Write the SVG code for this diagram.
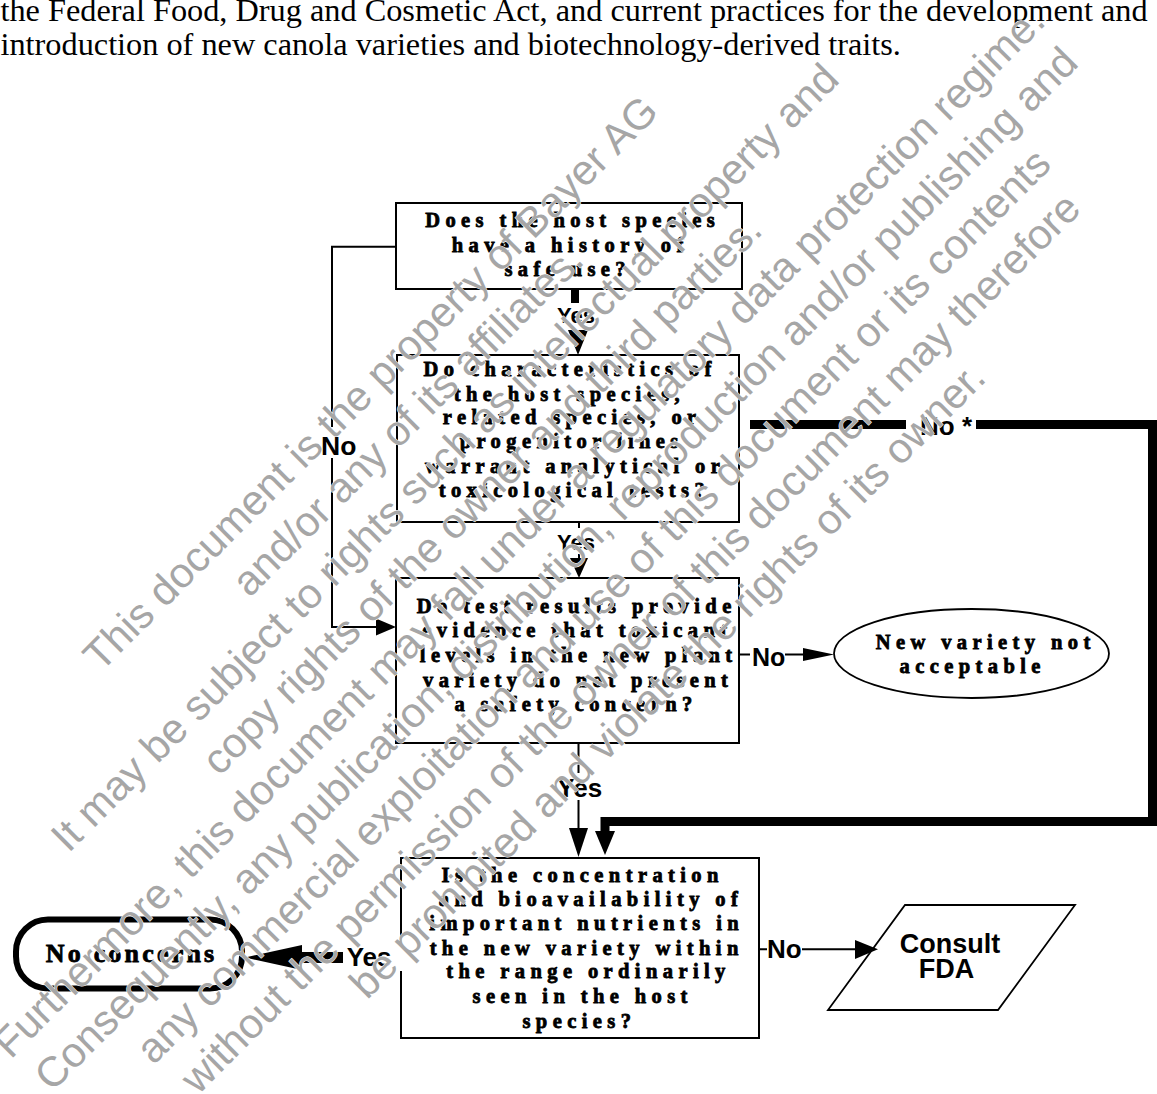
<svg xmlns="http://www.w3.org/2000/svg" width="1157" height="1094" viewBox="0 0 1157 1094">
<style>
.hdr{font-family:"Liberation Serif","Times New Roman",serif;font-size:32.3px;fill:#000}
.box{fill:#fff;stroke:#000;stroke-width:2}
.q{font-family:"Liberation Serif","Times New Roman",serif;font-weight:bold;font-size:20.5px;letter-spacing:5.4px;text-anchor:middle;fill:#000;stroke:#000;stroke-width:0.8px}
.lbl{font-family:"Liberation Sans",Arial,sans-serif;font-weight:bold;fill:#000}
.ln{fill:none;stroke:#000;stroke-width:2}
.thick{fill:none;stroke:#000;stroke-width:9;stroke-linejoin:miter}
.ah{fill:#000}
.wm{font-family:"Liberation Sans",Arial,sans-serif;font-size:42px;fill:#a6a6a6;stroke:#fff;stroke-width:1px;paint-order:stroke;text-anchor:middle}
</style>
<rect width="1157" height="1094" fill="#fff"/>
<text class="hdr" x="0.5" y="21">the Federal Food, Drug and Cosmetic Act, and current practices for the development and</text>
<text class="hdr" x="0.5" y="55">introduction of new canola varieties and biotechnology-derived traits.</text>

<g id="n1">
<rect class="box" x="396" y="203" width="346" height="86"/>
<text class="q" x="572.7" y="227">Does the host species</text>
<text class="q" x="570.2" y="251.5">have a history of</text>
<text class="q" x="567.7" y="276">safe use?</text>
</g>
<g id="n2">
<rect class="box" x="397" y="355" width="342" height="167"/>
<text class="q" x="570.2" y="376">Do characteristics of</text>
<text class="q" x="569.4" y="400.5">the host species,</text>
<text class="q" x="572.2" y="424">related species, or</text>
<text class="q" x="571.7" y="447.5">progenitor lines</text>
<text class="q" x="575.2" y="472.5">warrant analytical or</text>
<text class="q" x="574.4" y="496.5">toxicological tests?</text>
</g>
<g id="n3">
<rect class="box" x="396" y="578" width="343" height="165"/>
<text class="q" x="576.7" y="612.7">Do test results provide</text>
<text class="q" x="577.4" y="636.7">evidence that toxicant</text>
<text class="q" x="578.7" y="661.7">levels in the new plant</text>
<text class="q" x="578.2" y="686.7">variety do not present</text>
<text class="q" x="576" y="710.7">a safety concern?</text>
</g>
<g id="n4">
<rect class="box" x="401" y="858" width="358" height="180"/>
<text class="q" x="582.7" y="881.7">Is the concentration</text>
<text class="q" x="591" y="905.7">and bioavailability of</text>
<text class="q" x="586.7" y="930">important nutrients in</text>
<text class="q" x="586.7" y="955">the new variety within</text>
<text class="q" x="588.5" y="978.3">the range ordinarily</text>
<text class="q" x="582.7" y="1003.3">seen in the host</text>
<text class="q" x="579.4" y="1028.3">species?</text>
</g>
<g id="n5">
<ellipse cx="971.5" cy="653.5" rx="137.5" ry="44.5" fill="#fff" stroke="#000" stroke-width="1.8"/>
<text class="q" x="985.7" y="649">New variety not</text>
<text class="q" x="972.7" y="673">acceptable</text>
</g>
<g id="n6">
<rect x="16" y="919.5" width="226" height="69" rx="32" ry="32" fill="#fff" stroke="#000" stroke-width="6"/>
<text class="q" x="131.6" y="962" style="font-size:26px;letter-spacing:3.2px">No concerns</text>
</g>
<g id="n7">
<polygon points="905,905 1075,905 998,1010 828,1010" fill="#fff" stroke="#000" stroke-width="1.8"/>
<text class="lbl" x="950" y="953" font-size="27" text-anchor="middle">Consult</text>
<text class="lbl" x="946.5" y="977.5" font-size="27" text-anchor="middle">FDA</text>
</g>

<g id="connectors">
<rect x="571" y="289" width="8" height="14" fill="#000"/>
<polygon class="ah" points="568,330 588,330 578,355"/>
<text class="lbl" x="576" y="322.7" font-size="22" text-anchor="middle">Yes</text>

<path class="ln" d="M579,522V528M579,554V560"/>
<polygon class="ah" points="570,558 588,558 579,578"/>
<text class="lbl" x="576" y="550" font-size="22" text-anchor="middle">Yes</text>

<path class="ln" d="M578.5,743V773M578.5,800V830"/>
<polygon class="ah" points="569,828 588,828 578.5,857"/>
<text class="lbl" x="579.7" y="797" font-size="26" text-anchor="middle">Yes</text>

<path class="thick" d="M750,424.5H906M976,424.5H1152.5V821.5H605V833"/>
<polygon class="ah" points="595,831 615,831 605,855"/>
<text class="lbl" x="920" y="435" font-size="26">No *</text>

<polyline class="ln" points="396,246.7 332,246.7 332,427"/>
<polyline class="ln" points="332,458 332,627 377,627"/>
<polygon class="ah" points="376,618.5 376,635.5 396,627"/>
<text class="lbl" x="321" y="455" font-size="26.5">No</text>

<path class="ln" d="M739,654.5H750M785,654.5H804"/>
<polygon class="ah" points="803,648 803,661 834,654.5"/>
<text class="lbl" x="752" y="666" font-size="25">No</text>

<rect x="344" y="943" width="59" height="28" fill="#fff"/>
<path d="M343,957.5H300" fill="none" stroke="#000" stroke-width="11"/>
<polygon class="ah" points="302,945 302,970 245,957.5"/>
<text class="lbl" x="346.7" y="966" font-size="26">Yes</text>

<path class="ln" d="M759,949.3H767M802,949.3H856"/>
<polygon class="ah" points="855,940 855,959 878,949.3"/>
<text class="lbl" x="767" y="958.3" font-size="26">No</text>
</g>

<g id="watermark" class="wm" transform="translate(380.5,393.2) rotate(-45)">
<text x="0" y="0">This document is the property of Bayer AG</text>
<text x="0" y="52.5">and/or any of its affiliates.</text>
<text x="0" y="105">It may be subject to rights such as intellectual property and</text>
<text x="0" y="157.5">copy rights of the owner and third parties.</text>
<text x="0" y="210">Furthermore, this document may fall under a regulatory data protection regime.</text>
<text x="0" y="262.5">Consequently, any publication, distribution, reproduction and/or publishing and</text>
<text x="0" y="315">any commercial exploitation and use of this document or its contents</text>
<text x="0" y="367.5">without the permission of the owner of this document may therefore</text>
<text x="0" y="420">be prohibited and violate the rights of its owner.</text>
</g>
</svg>
